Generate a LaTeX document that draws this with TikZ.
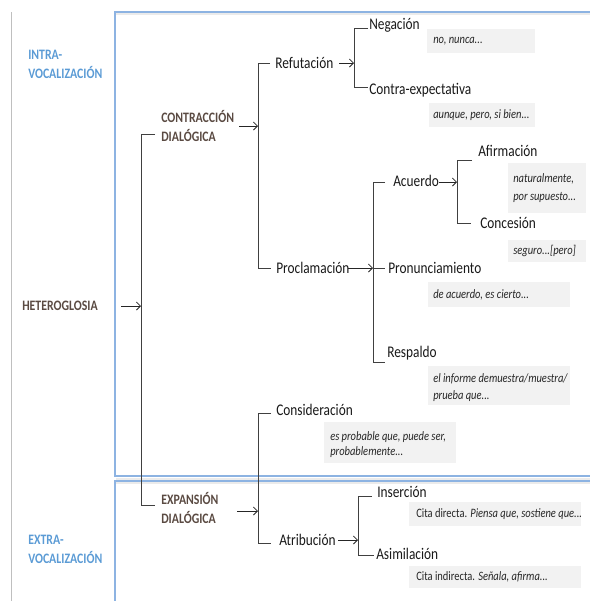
\documentclass[tikz,border=0pt]{standalone}
\usepackage{fontspec}
\setmainfont[FakeStretch=0.82]{Carlito}
\usetikzlibrary{arrows.meta}
\definecolor{headbrown}{HTML}{5A4A42}
\definecolor{headblue}{HTML}{5B9BD5}
\definecolor{boxblue}{HTML}{8DB3E2}
\definecolor{exgray}{HTML}{F2F2F2}
\definecolor{linegray}{HTML}{404040}
\begin{document}
\begin{tikzpicture}[x=0.75pt,y=-0.75pt,
 lbl/.style={inner sep=0pt, anchor=west, font=\fontsize{12.2}{14}\selectfont, text=black!90},
 head/.style={inner sep=0pt, anchor=west, align=left, font=\fontsize{10.8}{14.25}\selectfont\bfseries, text=headbrown},
 zone/.style={head, text=headblue},
 ex/.style={inner sep=0pt, anchor=west, align=left, font=\fontsize{9.6}{13}\selectfont\itshape, text=black!85},
 exbox/.style={fill=exgray, draw=none},
 br/.style={draw=linegray, line width=0.7pt},
 arr/.style={draw=black!85, line width=0.6pt, -{Straight Barb[length=3pt,width=6pt]}}
]
\useasboundingbox (0,0) rectangle (590,601);
\clip (0,0) rectangle (590,601);

% frames
\draw[black!25, line width=0.6pt] (11,12) -- (11,610);
\draw[black!8, line width=1.5pt] (116,14) -- (600,14);
\draw[black!8, line width=1.5pt] (116,478.5) -- (600,478.5);
\draw[black!8, line width=1.5pt] (116,483) -- (600,483);
\draw[boxblue, line width=0.8pt] (600,12) -- (115,12) -- (115,476) -- (600,476);
\draw[boxblue, line width=0.8pt] (600,481) -- (115,481) -- (115,610);

% zone and heading labels
\node[zone] (intra) at (28,64) {INTRA-\\VOCALIZACIÓN};
\node[zone] (extra) at (28,549) {EXTRA-\\VOCALIZACIÓN};
\node[head] (hetero) at (22,306) {HETEROGLOSIA};
\node[head] (contr) at (161,125.5) {CONTRACCIÓN\\DIALÓGICA};
\node[head] (expan) at (161,508) {EXPANSIÓN\\DIALÓGICA};

% category labels
\node[lbl] (refut) at (275,63) {Refutación};
\node[lbl] (procl) at (276,268) {Proclamación};
\node[lbl] (consid) at (276,410) {Consideración};
\node[lbl] (atrib) at (279,540) {Atribución};
\node[lbl] (neg) at (369,25) {Negación};
\node[lbl] (cexp) at (369,90) {Contra-expectativa};
\node[lbl] (acuer) at (393,181) {Acuerdo};
\node[lbl] (pron) at (388,268) {Pronunciamiento};
\node[lbl] (resp) at (387,353) {Respaldo};
\node[lbl] (afirm) at (478,151) {Afirmación};
\node[lbl] (conc) at (480,223) {Concesión};
\node[lbl] (inser) at (377,492) {Inserción};
\node[lbl] (asim) at (376,554) {Asimilación};

% example boxes
\path[exbox] (427,29) rectangle (535,53);
\node[ex] (xneg) at (433,41) {no, nunca...};
\path[exbox] (429,103) rectangle (535,127);
\node[ex] (xcexp) at (433,115) {aunque, pero, si bien...};
\path[exbox] (508,163) rectangle (586,213);
\node[ex, font=\fontsize{9.6}{13.5}\selectfont\itshape] (xafirm) at (513,188) {naturalmente,\\por supuesto...};
\path[exbox] (508,240) rectangle (586,262);
\node[ex] (xconc) at (513,251) {seguro...[pero]};
\path[exbox] (428,282) rectangle (570,307);
\node[ex] (xpron) at (433,295) {de acuerdo, es cierto...};
\path[exbox] (428,366) rectangle (570,405);
\node[ex, font=\fontsize{9.6}{12.75}\selectfont\itshape] (xresp) at (433,387.5) {el informe demuestra/muestra/\\prueba que...};
\path[exbox] (324,422) rectangle (456,463);
\node[ex, font=\fontsize{9.6}{11.5}\selectfont\itshape] (xcons) at (330,444.5) {es probable que, puede ser,\\probablemente...};
\path[exbox] (409,502) rectangle (581,526);
\node[ex, font=\fontsize{9.6}{13}\selectfont] (xins) at (416,514) {Cita directa. \textit{Piensa que, sostiene que...}};
\path[exbox] (409,566) rectangle (581,588);
\node[ex, font=\fontsize{9.6}{13}\selectfont] (xasim) at (416,577) {Cita indirecta. \textit{Señala, afirma...}};

% bracket corner coordinates
\coordinate (b1t) at (141,134);
\coordinate (b1b) at (141,505);
\coordinate (b2t) at (258,63);
\coordinate (b2b) at (258,268);
\coordinate (b3t) at (258,413);
\coordinate (b3b) at (258,543);
\coordinate (b4t) at (354,28);
\coordinate (b4b) at (354,87);
\coordinate (b5t) at (373,182);
\coordinate (b5b) at (373,362);
\coordinate (b6t) at (457,160);
\coordinate (b6b) at (457,223);
\coordinate (b7t) at (358,496);
\coordinate (b7b) at (358,555);

% brackets
\draw[br] (b1t -| 155,0) -- (b1t) -- (b1b) -- (b1b -| 155,0);
\draw[br] (b2t -| 270,0) -- (b2t) -- (b2b) -- (b2b -| 271,0);
\draw[br] (b3t -| 271,0) -- (b3t) -- (b3b) -- (b3b -| 271,0);
\draw[br] (b4t -| 368,0) -- (b4t) -- (b4b) -- (b4b -| 368,0);
\draw[br] (b5t -| 385,0) -- (b5t) -- (b5b) -- (b5b -| 385,0);
\draw[br] (b5t |- pron) -- (pron.west -| 385,0);
\draw[br] (b6t -| 472,0) -- (b6t) -- (b6b) -- (b6b -| 471,0);
\draw[br] (b7t -| 372,0) -- (b7t) -- (b7b) -- (b7b -| 374,0);

% arrows
\draw[arr] (hetero.east -| 121,0) -- (hetero -| b1t);
\draw[arr] (239,126) -- (b2t |- 0,126);
\draw[arr] (237,511) -- (b3t |- 0,511);
\draw[arr] (refut.east -| 339,0) -- (refut -| b4t);
\draw[arr] (procl.east -| 348,0) -- (procl -| b5t);
\draw[arr] (acuer.east |- b5t) -- (b5t -| b6t);
\draw[arr] (atrib.east -| 338,0) -- (atrib -| b7t);
\end{tikzpicture}
\end{document}
